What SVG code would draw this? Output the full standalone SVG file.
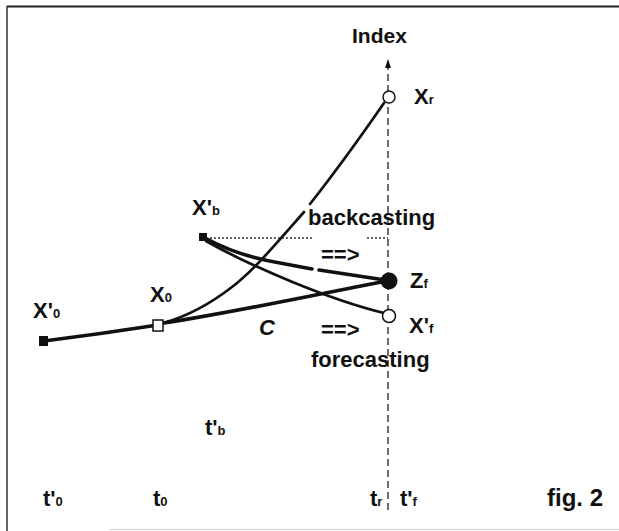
<svg xmlns="http://www.w3.org/2000/svg" width="619" height="531" viewBox="0 0 619 531">
<style>
text{font-family:"Liberation Sans",Arial,sans-serif;font-weight:bold;fill:#111}
.lbl{font-size:22px}
.sub{font-size:13px}
.thick{fill:none;stroke:#111;stroke-width:3.6;stroke-linecap:round}
.mid{fill:none;stroke:#111;stroke-width:2.7;stroke-linecap:round}
.axis{fill:none;stroke:#222;stroke-width:1.3;stroke-dasharray:7 4}
.dot{fill:none;stroke:#333;stroke-width:1.3;stroke-dasharray:2 2}
</style>
<defs>
<marker id="arr" markerWidth="9" markerHeight="6" refX="9" refY="3" orient="auto" markerUnits="userSpaceOnUse">
<path d="M0,0 L9,3 L0,6 Z" fill="#111"/>
</marker>
</defs>
<rect width="619" height="531" fill="#fff"/>
<g id="frame">
<line x1="7" y1="6.5" x2="619" y2="6.5" stroke="#222" stroke-width="2"/>
<line x1="7" y1="6" x2="7" y2="531" stroke="#333" stroke-width="1.5"/>
<line x1="110" y1="529.5" x2="619" y2="529.5" stroke="#ccc" stroke-width="1"/>
</g>
<g id="connectors">
<line class="axis" x1="388" y1="510" x2="388" y2="59" marker-end="url(#arr)"/>
<path class="dot" d="M210,238 L313,238"/>
<path class="dot" d="M367,238 L388,238"/>
<path class="thick" d="M44,341 Q100,334 158,325"/>
<path class="mid" d="M163,323 C185,317 210,304 232,287 S275,245 304,212"/>
<path class="mid" d="M310,204 C325,185 355,145 384,103"/>
<path class="thick" d="M164,323 C230,313 320,294 386,281"/>
<path class="thick" d="M205,238 C225,249 250,258 280,263 L312,269"/>
<path class="thick" d="M319,270 C340,273 365,277 385,280"/>
<path class="mid" d="M206,241 C250,266 330,300 384,313"/>
</g>
<g id="Xr"><circle cx="389" cy="97" r="6" fill="#fff" stroke="#111" stroke-width="1.5"/><text class="lbl" x="414" y="104">X<tspan class="sub">r</tspan></text></g>
<g id="Zf"><circle cx="389" cy="281" r="8.5" fill="#111"/><text class="lbl" x="410" y="288">Z<tspan class="sub">f</tspan></text></g>
<g id="Xpf"><circle cx="389" cy="316" r="6.5" fill="#fff" stroke="#111" stroke-width="1.5"/><text class="lbl" x="409" y="333">X'<tspan class="sub">f</tspan></text></g>
<g id="Xpb"><rect x="199" y="233" width="8" height="8" fill="#111"/><text class="lbl" x="192" y="215">X'<tspan class="sub">b</tspan></text></g>
<g id="X0"><rect x="153" y="320" width="10" height="11" fill="#fff" stroke="#111" stroke-width="1.5"/><text class="lbl" x="150" y="302">X<tspan class="sub">0</tspan></text></g>
<g id="Xp0"><rect x="39" y="336" width="9" height="10" fill="#111"/><text class="lbl" x="33" y="318">X'<tspan class="sub">0</tspan></text></g>
<g id="labels">
<text x="352" y="43" font-size="21">Index</text>
<text class="lbl" x="308" y="225">backcasting</text>
<text class="lbl" x="321" y="262">==&gt;</text>
<text class="lbl" x="321" y="337">==&gt;</text>
<text class="lbl" x="259" y="335" font-style="italic">C</text>
<text class="lbl" x="311" y="367">forecasting</text>
<text class="lbl" x="205" y="435">t'<tspan class="sub">b</tspan></text>
<text class="lbl" x="43" y="506">t'<tspan class="sub">0</tspan></text>
<text class="lbl" x="153" y="506">t<tspan class="sub">0</tspan></text>
<text class="lbl" x="370" y="506">t<tspan class="sub">r</tspan></text>
<text class="lbl" x="400" y="506">t'<tspan class="sub">f</tspan></text>
<text x="547" y="506" font-size="24" font-weight="normal">fig. 2</text>
</g>
</svg>
